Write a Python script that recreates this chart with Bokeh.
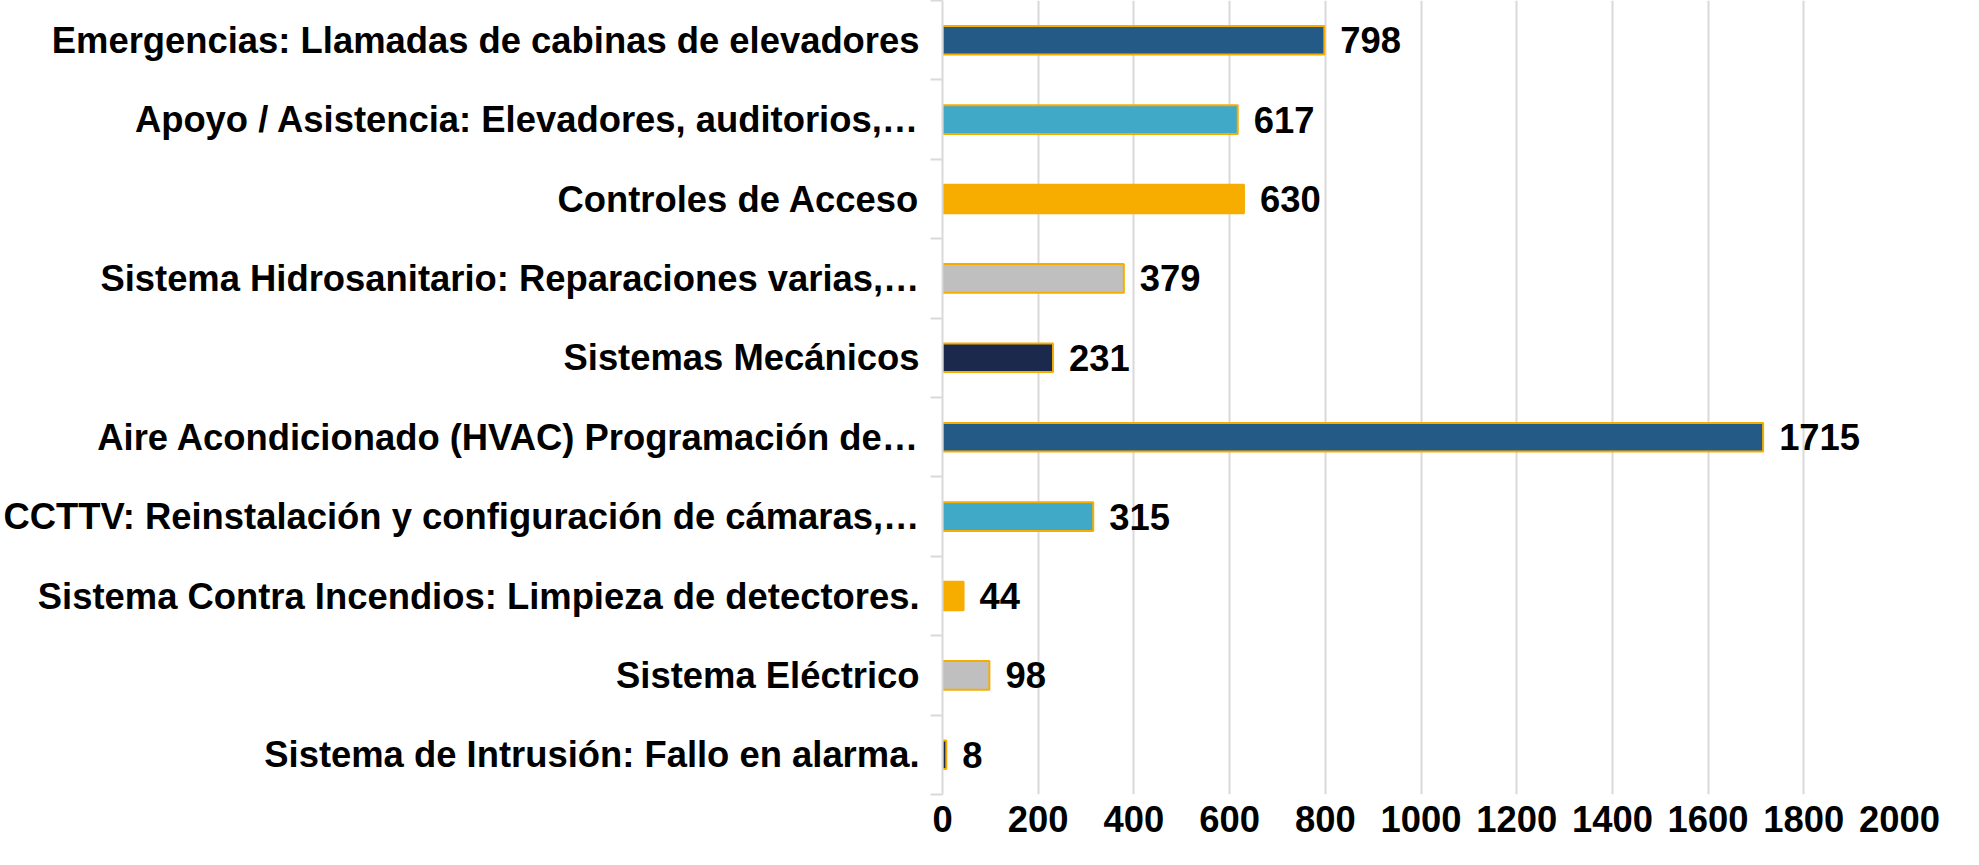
from bokeh.plotting import figure
from bokeh.models import Range1d, FixedTicker, ColumnDataSource
from bokeh.embed import file_html
from bokeh.resources import INLINE
from bokeh.core.properties import value

categories = [
    "Emergencias: Llamadas de cabinas de elevadores",
    "Apoyo / Asistencia: Elevadores, auditorios,…",
    "Controles de Acceso",
    "Sistema Hidrosanitario: Reparaciones varias,…",
    "Sistemas Mecánicos",
    "Aire Acondicionado (HVAC) Programación de…",
    "CCTTV: Reinstalación y configuración de cámaras,…",
    "Sistema Contra Incendios: Limpieza de detectores.",
    "Sistema Eléctrico",
    "Sistema de Intrusión: Fallo en alarma.",
]
values = [798, 617, 630, 379, 231, 1715, 315, 44, 98, 8]
bar_colors = ["#245A86", "#40A9C7", "#F6AD00", "#BFBFBF", "#1B2A4C",
              "#245A86", "#40A9C7", "#F6AD00", "#BFBFBF", "#1B2A4C"]
x_ticks = [0, 200, 400, 600, 800, 1000, 1200, 1400, 1600, 1800, 2000]

FONT = "Liberation Sans"
FSIZE = "36.4px"
n = len(categories)
pos = [i + 0.5 for i in range(n)]

src = ColumnDataSource(dict(y=pos, v=values, c=bar_colors,
                            lbl=[str(v) for v in values]))

p = figure(width=1963, height=849, output_backend="svg", toolbar_location=None,
           x_range=Range1d(0, 2000), y_range=Range1d(n, 0),
           min_border_left=934, min_border_right=64, min_border_top=0,
           min_border_bottom=55)
p.outline_line_color = None
p.background_fill_color = "white"

p.hbar(y="y", left=0, right="v", height=0.36, fill_color="c",
       line_color="#F6AD00", line_width=2, source=src)

p.text(x="v", y="y", text="lbl", source=src, x_offset=16,
       text_baseline="middle", text_align="left",
       text_font=value(FONT), text_font_style="bold",
       text_font_size=FSIZE, text_color="black")

# x axis
p.xaxis.ticker = FixedTicker(ticks=x_ticks)
p.xaxis.axis_line_color = None
p.xaxis.major_tick_line_color = None
p.xaxis.minor_tick_line_color = None
p.xaxis.major_tick_out = 0
p.xaxis.major_tick_in = 0
p.xaxis.major_label_standoff = 11
p.xaxis.major_label_text_font = FONT
p.xaxis.major_label_text_font_style = "bold"
p.xaxis.major_label_text_font_size = FSIZE
p.xaxis.major_label_text_color = "black"

p.xgrid.ticker = FixedTicker(ticks=x_ticks)
p.xgrid.grid_line_color = "#D9D9D9"
p.xgrid.grid_line_width = 2
p.ygrid.grid_line_color = None

# y axis: labels at centers, tick marks between categories
p.yaxis.ticker = FixedTicker(ticks=pos, minor_ticks=list(range(n + 1)))
p.yaxis.major_label_overrides = {pv: c for pv, c in zip(pos, categories)}
p.yaxis.axis_line_color = "#D9D9D9"
p.yaxis.axis_line_width = 2
p.yaxis.major_tick_line_color = None
p.yaxis.major_tick_out = 0
p.yaxis.major_tick_in = 0
p.yaxis.minor_tick_line_color = "#D9D9D9"
p.yaxis.minor_tick_line_width = 2
p.yaxis.minor_tick_out = 12
p.yaxis.minor_tick_in = 0
p.yaxis.major_label_standoff = 11
p.yaxis.major_label_text_font = FONT
p.yaxis.major_label_text_font_style = "bold"
p.yaxis.major_label_text_font_size = FSIZE
p.yaxis.major_label_text_color = "black"

open("out.html", "w").write(file_html(p, INLINE))
